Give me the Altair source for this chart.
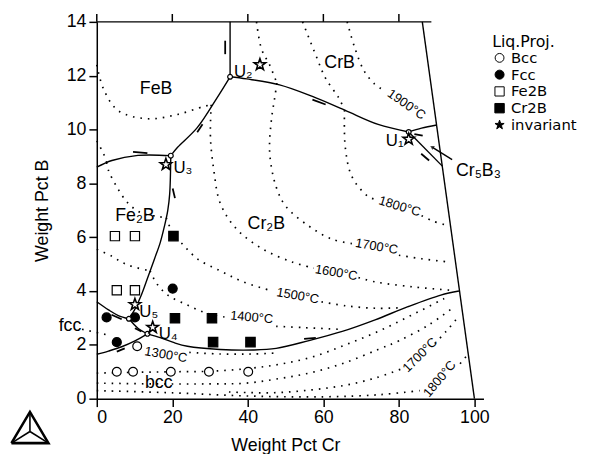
import altair as alt
import pandas as pd

# ---------------- axes ----------------
x_ticks = [0, 20, 40, 60, 80, 100]
y_ticks = [0, 2, 4, 6, 8, 10, 12, 14]
top_tick_x = [0, 20, 40, 60, 80]

# ---------------- solid boundary lines (Weight Pct Cr, Weight Pct B) ----------------
u2_top_x = [35.3, 35.3]
u2_top_y = [14.0, 11.96]
u2_u1_x = [35.3, 39.7, 48.4, 57.1, 65.8, 74.5, 82.6]
u2_u1_y = [11.96, 11.88, 11.66, 11.23, 10.71, 10.19, 9.91]
u1_up_x = [82.6, 86.0, 90.0]
u1_up_y = [9.91, 10.05, 10.17]
u1_down_x = [82.6, 91.5]
u1_down_y = [9.91, 8.64]
u3_u2_x = [19.6, 21.4, 26.6, 31.8, 35.3]
u3_u2_y = [9.03, 9.34, 10.07, 11.17, 11.96]
u3_left_x = [0.0, 4.0, 10.9, 19.6]
u3_left_y = [8.60, 8.85, 9.04, 9.03]
u3_u5_x = [19.6, 19.3, 18.8, 17.9, 16.8, 15.3, 13.5, 11.8, 10.0, 8.5]
u3_u5_y = [9.03, 7.6, 7.0, 6.4, 5.8, 5.2, 4.5, 3.85, 3.3, 2.97]
u5_left_x = [0.0, 3.1, 5.7, 8.5]
u5_left_y = [3.60, 3.30, 3.09, 2.97]
u5_u4_x = [8.5, 10.9, 13.4]
u5_u4_y = [2.97, 2.62, 2.41]
u4_left_x = [0.0, 3.1, 6.6, 10.1, 13.4]
u4_left_y = [1.65, 1.77, 1.93, 2.15, 2.41]
u4_right_x = [13.4, 17.0, 20.5, 24.0, 32.7, 41.4, 47.5, 56.2, 65.0, 73.7, 82.4, 91.1, 95.9]
u4_right_y = [2.41, 2.26, 2.08, 1.95, 1.83, 1.81, 1.87, 2.16, 2.50, 2.93, 3.42, 3.85, 4.0]
edge_x = [86.2, 100.0]
edge_y = [14.0, 0.0]
cr5b3_arrow_x = [94.1, 88.9]
cr5b3_arrow_y = [8.88, 9.34]

# ---------------- dotted isotherms ----------------
iso_feb_x = [0.0, 1.8, 5.7, 13.5, 21.4, 28.4, 30.3]
iso_feb_y = [12.4, 11.5, 10.7, 10.4, 10.56, 10.86, 10.92]
iso1600_a_x = [30.3, 30.1, 31.0, 32.7, 37.1, 44.1, 51.9, 57.5]
iso1600_a_y = [10.92, 9.7, 8.48, 7.26, 6.29, 5.55, 5.07, 4.85]
iso1600_b_x = [69.3, 73.7, 84.1, 93.7]
iso1600_b_y = [4.5, 4.34, 4.15, 4.03]
iso1500_a_x = [0.0, 1.8, 2.6]
iso1500_a_y = [9.58, 9.1, 8.78]
iso1500_b_x = [2.6, 3.1, 5.3, 8.3, 11.8, 16.2, 18.4]
iso1500_b_y = [8.78, 8.48, 7.87, 7.26, 6.9, 6.77, 6.72]
iso1500_c_x = [18.4, 20.5, 22.3, 26.6, 32.7, 38.8, 46.5]
iso1500_c_y = [6.72, 6.04, 5.8, 5.2, 4.75, 4.34, 4.0]
iso1500_d_x = [59.5, 66.0, 73.7, 81.0]
iso1500_d_y = [3.6, 3.45, 3.36, 3.38]
iso1400_a_x = [0.0, 3.9, 6.6, 9.2, 14.1]
iso1400_a_y = [5.55, 5.3, 5.07, 4.92, 4.75]
iso1400_b_x = [14.1, 16.0, 18.8, 24.0, 29.2, 34.5]
iso1400_b_y = [4.75, 4.25, 3.85, 3.48, 3.17, 3.02]
iso1400_c_x = [47.5, 55.0, 64.0]
iso1400_c_y = [2.69, 2.64, 2.58]
iso1700_top_x = [42.3, 43.6, 45.8, 47.7]
iso1700_top_y = [14.0, 13.0, 12.39, 11.72]
iso1700_a_x = [47.7, 47.1, 46.2, 45.8, 47.5, 50.1, 56.2, 62.4, 68.3]
iso1700_a_y = [11.72, 11.17, 10.31, 9.1, 7.87, 7.14, 6.41, 5.92, 5.75]
iso1700_b_x = [80.0, 86.0, 93.7]
iso1700_b_y = [5.33, 5.2, 5.07]
iso1800_top_x = [54.5, 58.0, 60.6, 64.1, 65.6]
iso1800_top_y = [14.0, 12.76, 11.9, 11.17, 10.72]
iso1800_a_x = [65.6, 65.8, 67.6, 71.9, 74.5]
iso1800_a_y = [10.72, 9.34, 8.24, 7.51, 7.38]
iso1800_b_x = [86.0, 89.0, 92.5]
iso1800_b_y = [6.8, 6.6, 6.45]
iso1900_x = [66.3, 68.4, 70.9, 73.5, 75.5]
iso1900_y = [14.0, 13.0, 12.15, 11.7, 11.5]
bcc0_x = [24.5, 32.7, 41.0, 48.0]
bcc0_y = [1.72, 1.66, 1.66, 1.70]
bcc1_x = [0.0, 10.0, 20.0, 30.0, 40.0, 48.4, 57.1, 65.8, 74.5, 83.3, 92.0]
bcc1_y = [0.95, 0.98, 1.0, 1.02, 1.12, 1.28, 1.55, 2.0, 2.5, 3.1, 3.72]
bcc2_x = [0.0, 15.0, 30.0, 39.7, 48.4, 57.1, 65.8, 74.5, 80.0, 88.0, 94.5]
bcc2_y = [0.58, 0.55, 0.55, 0.58, 0.75, 0.98, 1.34, 1.83, 2.15, 2.75, 3.4]
bcc3_a_x = [35.0, 46.7, 57.0, 65.8, 74.0, 81.5]
bcc3_a_y = [0.25, 0.22, 0.33, 0.5, 0.78, 1.15]
bcc3_b_x = [89.5, 92.5, 95.5]
bcc3_b_y = [2.05, 2.5, 3.0]
bcc4_a_x = [0.0, 20.0, 40.0, 60.0, 75.0, 85.5]
bcc4_a_y = [0.3, 0.22, 0.1, 0.07, 0.15, 0.3]
bcc4_b_x = [96.2, 98.0]
bcc4_b_y = [1.3, 1.6]
fcc_leader_x = [-3.9, 3.5]
fcc_leader_y = [2.58, 2.35]

# ---------------- experimental points ----------------
bcc_x = [5.3, 9.6, 19.6, 29.7, 40.1, 10.7]
bcc_y = [1.0, 1.0, 1.0, 1.0, 1.0, 1.95]
fcc_x = [2.6, 10.1, 5.3, 20.1]
fcc_y = [3.02, 3.02, 2.10, 4.09]
fe2b_x = [4.8, 10.1, 5.3, 10.1]
fe2b_y = [6.04, 6.04, 4.03, 4.03]
cr2b_x = [20.3, 20.7, 30.5, 30.8, 40.7]
cr2b_y = [6.04, 2.99, 2.99, 2.10, 2.10]
inv_x = [82.6, 43.2, 18.3, 14.8, 10.1]
inv_y = [9.64, 12.41, 8.70, 2.65, 3.50]
calc_u_x = [82.6, 35.3, 19.6, 13.4, 8.5]
calc_u_y = [9.91, 11.96, 9.03, 2.41, 2.97]
STAR = ("M0,-1L0.235,-0.324L0.951,-0.309L0.380,0.124L0.588,0.809L0,0.4"
        "L-0.588,0.809L-0.380,0.124L-0.951,-0.309L-0.235,-0.324Z")
point_types = ["Bcc", "Fcc", "Fe2B", "Cr2B", "invariant"]
point_fills = ["white", "black", "white", "black", "black"]
point_shapes = ["circle", "circle", "square", "square", STAR]

# ---------------- labels ----------------
u_text = ["U\u2081", "U\u2082", "U\u2083", "U\u2084", "U\u2085"]
u_x = [78.9, 38.8, 22.8, 18.9, 13.75]
u_y = [9.58, 12.15, 8.58, 2.39, 3.21]
phase_text = ["FeB", "CrB", "Cr\u2082B", "Fe\u2082B", "bcc", "fcc"]
phase_x = [15.7, 64.3, 44.9, 10.1, 16.4, -7.1]
phase_y = [11.5, 12.47, 6.47, 6.77, 0.59, 2.7]
cr5b3_text = ["Cr\u2085B\u2083"]
cr5b3_x = [95.1]
cr5b3_y = [8.45]
temp_text = ["1900\u00b0C", "1800\u00b0C", "1700\u00b0C", "1600\u00b0C", "1500\u00b0C",
             "1400\u00b0C", "1300\u00b0C", "1700\u00b0C", "1800\u00b0C"]
temp_x = [82.0, 80.2, 74.1, 63.4, 53.2, 41.0, 18.3, 85.6, 90.8]
temp_y = [10.93, 7.14, 5.65, 4.68, 3.82, 3.02, 1.63, 1.62, 0.73]
temp_angle = [35, 17, 10, 10, 10, 5, 10, 315, 310]

# half-arrows along the monovariant lines
arr_x1 = [34.0, 26.6, 9.6, 20.1, 57.1, 85.9, 84.1, 54.9, 3.9, 10.1, 5.3]
arr_y1 = [13.3, 9.9, 9.17, 7.81, 11.11, 9.10, 9.83, 2.22, 3.12, 2.62, 1.75]
arr_x2 = [34.0, 28.0, 13.4, 20.7, 60.6, 88.0, 86.3, 58.0, 6.6, 11.8, 7.4]
arr_y2 = [12.8, 10.2, 9.12, 7.45, 10.93, 8.85, 9.77, 2.26, 2.95, 2.50, 1.87]

# Thermo-Calc style logo (drawn below the axis)
logo_outer_x = [-22.6, -12.8, -17.7, -22.6]
logo_outer_y = [-1.65, -1.65, -0.49, -1.65]
logo_center = (-17.7, -1.22)

# ---------------- build tables ----------------
def poly(name, xs, ys):
    return pd.DataFrame({"line": name, "ord": list(range(len(xs))), "x": xs, "y": ys})

solid_df = pd.concat([
    poly("u2top", u2_top_x, u2_top_y), poly("u2u1", u2_u1_x, u2_u1_y),
    poly("u1up", u1_up_x, u1_up_y), poly("u1down", u1_down_x, u1_down_y),
    poly("u3u2", u3_u2_x, u3_u2_y), poly("u3left", u3_left_x, u3_left_y),
    poly("u3u5", u3_u5_x, u3_u5_y), poly("u5left", u5_left_x, u5_left_y),
    poly("u5u4", u5_u4_x, u5_u4_y), poly("u4left", u4_left_x, u4_left_y),
    poly("u4right", u4_right_x, u4_right_y), poly("edge", edge_x, edge_y),
    poly("cr5b3", cr5b3_arrow_x, cr5b3_arrow_y),
], ignore_index=True)

dot_df = pd.concat([
    poly("feb", iso_feb_x, iso_feb_y),
    poly("i16a", iso1600_a_x, iso1600_a_y), poly("i16b", iso1600_b_x, iso1600_b_y),
    poly("i15a", iso1500_a_x, iso1500_a_y), poly("i15b", iso1500_b_x, iso1500_b_y),
    poly("i15c", iso1500_c_x, iso1500_c_y), poly("i15d", iso1500_d_x, iso1500_d_y),
    poly("i14a", iso1400_a_x, iso1400_a_y), poly("i14b", iso1400_b_x, iso1400_b_y),
    poly("i14c", iso1400_c_x, iso1400_c_y),
    poly("i17t", iso1700_top_x, iso1700_top_y), poly("i17a", iso1700_a_x, iso1700_a_y),
    poly("i17b", iso1700_b_x, iso1700_b_y),
    poly("i18t", iso1800_top_x, iso1800_top_y), poly("i18a", iso1800_a_x, iso1800_a_y),
    poly("i18b", iso1800_b_x, iso1800_b_y),
    poly("i19", iso1900_x, iso1900_y),
    poly("b0", bcc0_x, bcc0_y), poly("b1", bcc1_x, bcc1_y), poly("b2", bcc2_x, bcc2_y),
    poly("b3a", bcc3_a_x, bcc3_a_y), poly("b3b", bcc3_b_x, bcc3_b_y),
    poly("b4a", bcc4_a_x, bcc4_a_y), poly("b4b", bcc4_b_x, bcc4_b_y),
    poly("fccl", fcc_leader_x, fcc_leader_y),
], ignore_index=True)

pts_df = pd.concat([
    pd.DataFrame({"x": bcc_x, "y": bcc_y, "type": "Bcc"}),
    pd.DataFrame({"x": fcc_x, "y": fcc_y, "type": "Fcc"}),
    pd.DataFrame({"x": fe2b_x, "y": fe2b_y, "type": "Fe2B"}),
    pd.DataFrame({"x": cr2b_x, "y": cr2b_y, "type": "Cr2B"}),
], ignore_index=True)
inv_df = pd.DataFrame({"x": inv_x, "y": inv_y})
calc_df = pd.DataFrame({"x": calc_u_x, "y": calc_u_y})
u_df = pd.DataFrame({"x": u_x, "y": u_y, "t": u_text})
phase_df = pd.DataFrame({"x": phase_x, "y": phase_y, "t": phase_text})
cr5_df = pd.DataFrame({"x": cr5b3_x, "y": cr5b3_y, "t": cr5b3_text})
temp_df = pd.DataFrame({"x": temp_x, "y": temp_y, "t": temp_text, "a": temp_angle})
arr_df = pd.DataFrame({"x": arr_x1, "y": arr_y1, "x2": arr_x2, "y2": arr_y2})
head_df = pd.DataFrame({"x": [cr5b3_arrow_x[-1]], "y": [cr5b3_arrow_y[-1]]})
top_df = pd.DataFrame({"x": [0.0], "x2": [88.6], "y": [14.0]})
toptick_df = pd.DataFrame({"x": top_tick_x, "y": [14.0] * len(top_tick_x)})

logo_rows = [poly("outer", logo_outer_x, logo_outer_y).assign(w=2.6)]
for i in range(3):
    logo_rows.append(poly(f"s{i}", [logo_center[0], logo_outer_x[i]],
                          [logo_center[1], logo_outer_y[i]]).assign(w=1.6))
logo_df = pd.concat(logo_rows, ignore_index=True)

# ---------------- encodings ----------------
FONT = "Liberation Sans"
xscale = alt.Scale(domain=[0, 102.4], nice=False, zero=False)
yscale = alt.Scale(domain=[0, 14], nice=False, zero=False)
X = alt.X("x:Q", scale=xscale, axis=alt.Axis(values=x_ticks, title="Weight Pct Cr", titleX=191.25,
                                            titleY=53, titleBaseline="alphabetic", labelPadding=2))
Y = alt.Y("y:Q", scale=yscale, axis=alt.Axis(values=y_ticks, title="Weight Pct B", titleAngle=270,
                                            titleX=-55, titleY=191, titleAlign="center",
                                            titleBaseline="middle", labelPadding=3))

solid = alt.Chart(solid_df).mark_line(color="black", strokeWidth=1.4, interpolate="catmull-rom").encode(
    x=X, y=Y, detail="line:N", order="ord:Q")
dots = alt.Chart(dot_df).mark_line(color="black", strokeWidth=1.7, strokeDash=[1.6, 6],
                                   interpolate="catmull-rom").encode(
    x=X, y=Y, detail="line:N", order="ord:Q")
top_line = alt.Chart(top_df).mark_rule(color="black", strokeWidth=1.5).encode(x=X, x2="x2:Q", y=Y)
top_ticks = alt.Chart(toptick_df).mark_rule(color="black", strokeWidth=1.5).encode(
    x=X, y=Y, y2=alt.value(-8))
arrows = alt.Chart(arr_df).mark_rule(color="black", strokeWidth=1.8).encode(
    x=X, y=Y, x2="x2:Q", y2="y2:Q")
head = alt.Chart(head_df).mark_point(shape="triangle", filled=True, color="black", size=22,
                                     angle=302).encode(x=X, y=Y)
logo = alt.Chart(logo_df).mark_line(color="black").encode(
    x=X, y=Y, detail="line:N", order="ord:Q", strokeWidth=alt.StrokeWidth("w:Q", scale=None))

legend = alt.Legend(title="Liq.Proj.", orient="none", legendX=400.8, legendY=12, padding=0,
                    titleFont="DejaVu Sans", titleFontSize=16, titleFontWeight="normal",
                    titleColor="black", titlePadding=1, labelFont="DejaVu Sans", labelFontSize=15,
                    labelColor="black", symbolSize=45, symbolStrokeColor="black",
                    symbolStrokeWidth=1, rowPadding=1, labelOffset=4, symbolOffset=0)
points = alt.Chart(pts_df).mark_point(filled=True, stroke="black", strokeWidth=1.2, opacity=1).encode(
    x=X, y=Y,
    color=alt.Color("type:N", scale=alt.Scale(domain=point_types, range=point_fills), legend=legend),
    shape=alt.Shape("type:N", scale=alt.Scale(domain=point_types, range=point_shapes), legend=legend),
    size=alt.Size("type:N", scale=alt.Scale(domain=point_types, range=[80, 95, 100, 110, 100]),
                  legend=None),
)
stars = alt.Chart(inv_df).mark_point(shape=STAR, filled=True, fill="white", stroke="black",
                                     strokeWidth=1.6, size=150, opacity=1).encode(x=X, y=Y)
calc = alt.Chart(calc_df).mark_point(shape="circle", filled=True, fill="white", stroke="black",
                                     strokeWidth=1.2, size=24, opacity=1).encode(x=X, y=Y)

u_lab = alt.Chart(u_df).mark_text(font=FONT, fontSize=17, color="black").encode(x=X, y=Y, text="t:N")
ph_lab = alt.Chart(phase_df).mark_text(font=FONT, fontSize=18, color="black").encode(x=X, y=Y, text="t:N")
cr5_lab = alt.Chart(cr5_df).mark_text(font=FONT, fontSize=18, color="black", align="left").encode(
    x=X, y=Y, text="t:N")
temp_lab = alt.Chart(temp_df).mark_text(font=FONT, fontSize=13, color="black").encode(
    x=X, y=Y, text="t:N", angle=alt.Angle("a:Q", scale=None))

chart = alt.layer(
    dots, solid, top_line, top_ticks, arrows, head, logo, points, calc, stars,
    u_lab, ph_lab, cr5_lab, temp_lab
).properties(
    width=392, height=382,
    autosize=alt.AutoSizeParams(type="none"),
    padding={"left": 90, "top": 11, "right": 110, "bottom": 53},
).configure_view(stroke=None).configure_axis(
    labelFont=FONT, titleFont=FONT, labelFontSize=18, titleFontSize=18, titleFontWeight="normal",
    labelColor="black", titleColor="black", domainColor="black", tickColor="black",
    domainWidth=1.5, tickWidth=1.5, tickSize=8, grid=False,
)

chart.save("out.html", embed_options={"renderer": "svg", "actions": False})
